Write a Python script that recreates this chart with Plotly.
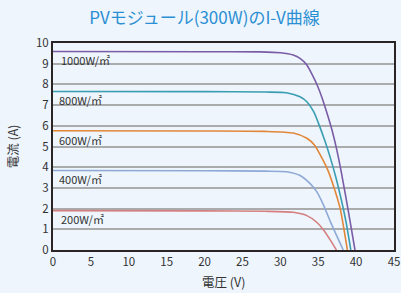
import plotly.graph_objects as go

title_text = "PVモジュール(300W)のI-V曲線"
x_title = "電圧 (V)"
y_title = "電流 (A)"

v_1000 = [0, 20, 27.3, 30.0, 31.7, 32.6, 33.5, 34.1, 34.8, 35.5, 36.1, 36.8, 37.4, 38.0, 38.6, 39.2, 39.85]
i_1000 = [9.59, 9.58, 9.57, 9.53, 9.42, 9.26, 8.94, 8.55, 8.02, 7.36, 6.68, 5.82, 4.92, 3.85, 2.65, 1.4, 0.0]

v_800 = [0, 20, 28, 30.8, 32.6, 33.5, 34.4, 35.2, 35.9, 36.6, 37.3, 38.0, 38.7, 39.3]
i_800 = [7.66, 7.65, 7.63, 7.6, 7.4, 7.16, 6.68, 5.96, 5.25, 4.45, 3.55, 2.5, 1.3, 0.0]

v_600 = [0, 20, 28, 31.7, 33.5, 34.5, 36.1, 37.1, 37.9, 38.4, 38.85]
i_600 = [5.76, 5.75, 5.73, 5.65, 5.4, 5.07, 4.0, 3.0, 2.0, 1.0, 0.0]

v_400 = [0, 20, 28, 30.8, 32.6, 33.9, 34.8, 35.7, 36.6, 37.45, 38.3]
i_400 = [3.84, 3.83, 3.81, 3.78, 3.6, 3.22, 2.82, 2.17, 1.37, 0.68, 0.0]

v_200 = [0, 20, 28, 31.7, 33.5, 34.8, 35.7, 36.6, 37.4]
i_200 = [1.9, 1.89, 1.87, 1.82, 1.66, 1.34, 0.97, 0.48, 0.0]

series_names = ["1000W/㎡", "800W/㎡", "600W/㎡", "400W/㎡", "200W/㎡"]
series_v = [v_1000, v_800, v_600, v_400, v_200]
series_i = [i_1000, i_800, i_600, i_400, i_200]
series_colors = ["#7a5ca6", "#3a9db2", "#e2873a", "#8ea9d6", "#d57f7f"]
label_x = [0.8, 0.55, 0.55, 0.55, 0.8]
label_y = [9.2, 7.25, 5.3, 3.45, 1.5]

x_ticks = [0, 5, 10, 15, 20, 25, 30, 35, 40, 45]
y_ticks = [0, 1, 2, 3, 4, 5, 6, 7, 8, 9, 10]

fig = go.Figure()
for name, v, i, c in zip(series_names, series_v, series_i, series_colors):
    fig.add_trace(go.Scatter(x=v, y=i, mode="lines", name=name,
                             line=dict(color=c, width=1.6, shape="spline", smoothing=0.6)))

for name, lx, ly in zip(series_names, label_x, label_y):
    fig.add_annotation(x=lx, y=ly, text=name, showarrow=False, xanchor="left", yanchor="middle",
                       font=dict(size=11, color="#333333"))

fig.add_annotation(xref="paper", yref="paper", x=0.5, y=-0.15, text=x_title, showarrow=False,
                   xanchor="center", yanchor="middle", font=dict(size=12.5, color="#333333"))
fig.add_annotation(xref="paper", yref="paper", x=-0.118, y=0.5, text=y_title, showarrow=False,
                   textangle=-90, xanchor="center", yanchor="middle", font=dict(size=12.5, color="#333333"))

bg = "#eef5fd"
fig.update_layout(
    width=401, height=293,
    paper_bgcolor=bg, plot_bgcolor=bg,
    margin=dict(l=53, r=7, t=43, b=43, autoexpand=False),
    showlegend=False,
    font=dict(family="Noto Sans CJK JP", color="#333333", size=12),
    title=dict(text=title_text, x=0.51, xanchor="center", y=0.94, yanchor="middle",
               font=dict(size=17, color="#2b8fd3", family="Noto Sans CJK JP")),
    xaxis=dict(range=[0, 45], tickvals=x_ticks, showgrid=False, zeroline=False,
               showline=True, linecolor="#2a2424", linewidth=2, mirror=True,
               ticks="", tickfont=dict(size=11.5, color="#333333"), automargin=False),
    yaxis=dict(range=[0, 10], tickvals=y_ticks, showgrid=True, gridcolor="#a9abad", gridwidth=1.5,
               zeroline=False, showline=True, linecolor="#2a2424", linewidth=2, mirror=True,
               ticks="", tickfont=dict(size=11.5, color="#333333"), automargin=False),
)

fig.write_html("out.html", config={"displayModeBar": False})
with open("out.html", "r", encoding="utf-8") as f:
    html = f.read()
html = html.replace("<body>", '<body style="margin:0;padding:0;overflow:hidden;background:#eef5fd">', 1)
with open("out.html", "w", encoding="utf-8") as f:
    f.write(html)
